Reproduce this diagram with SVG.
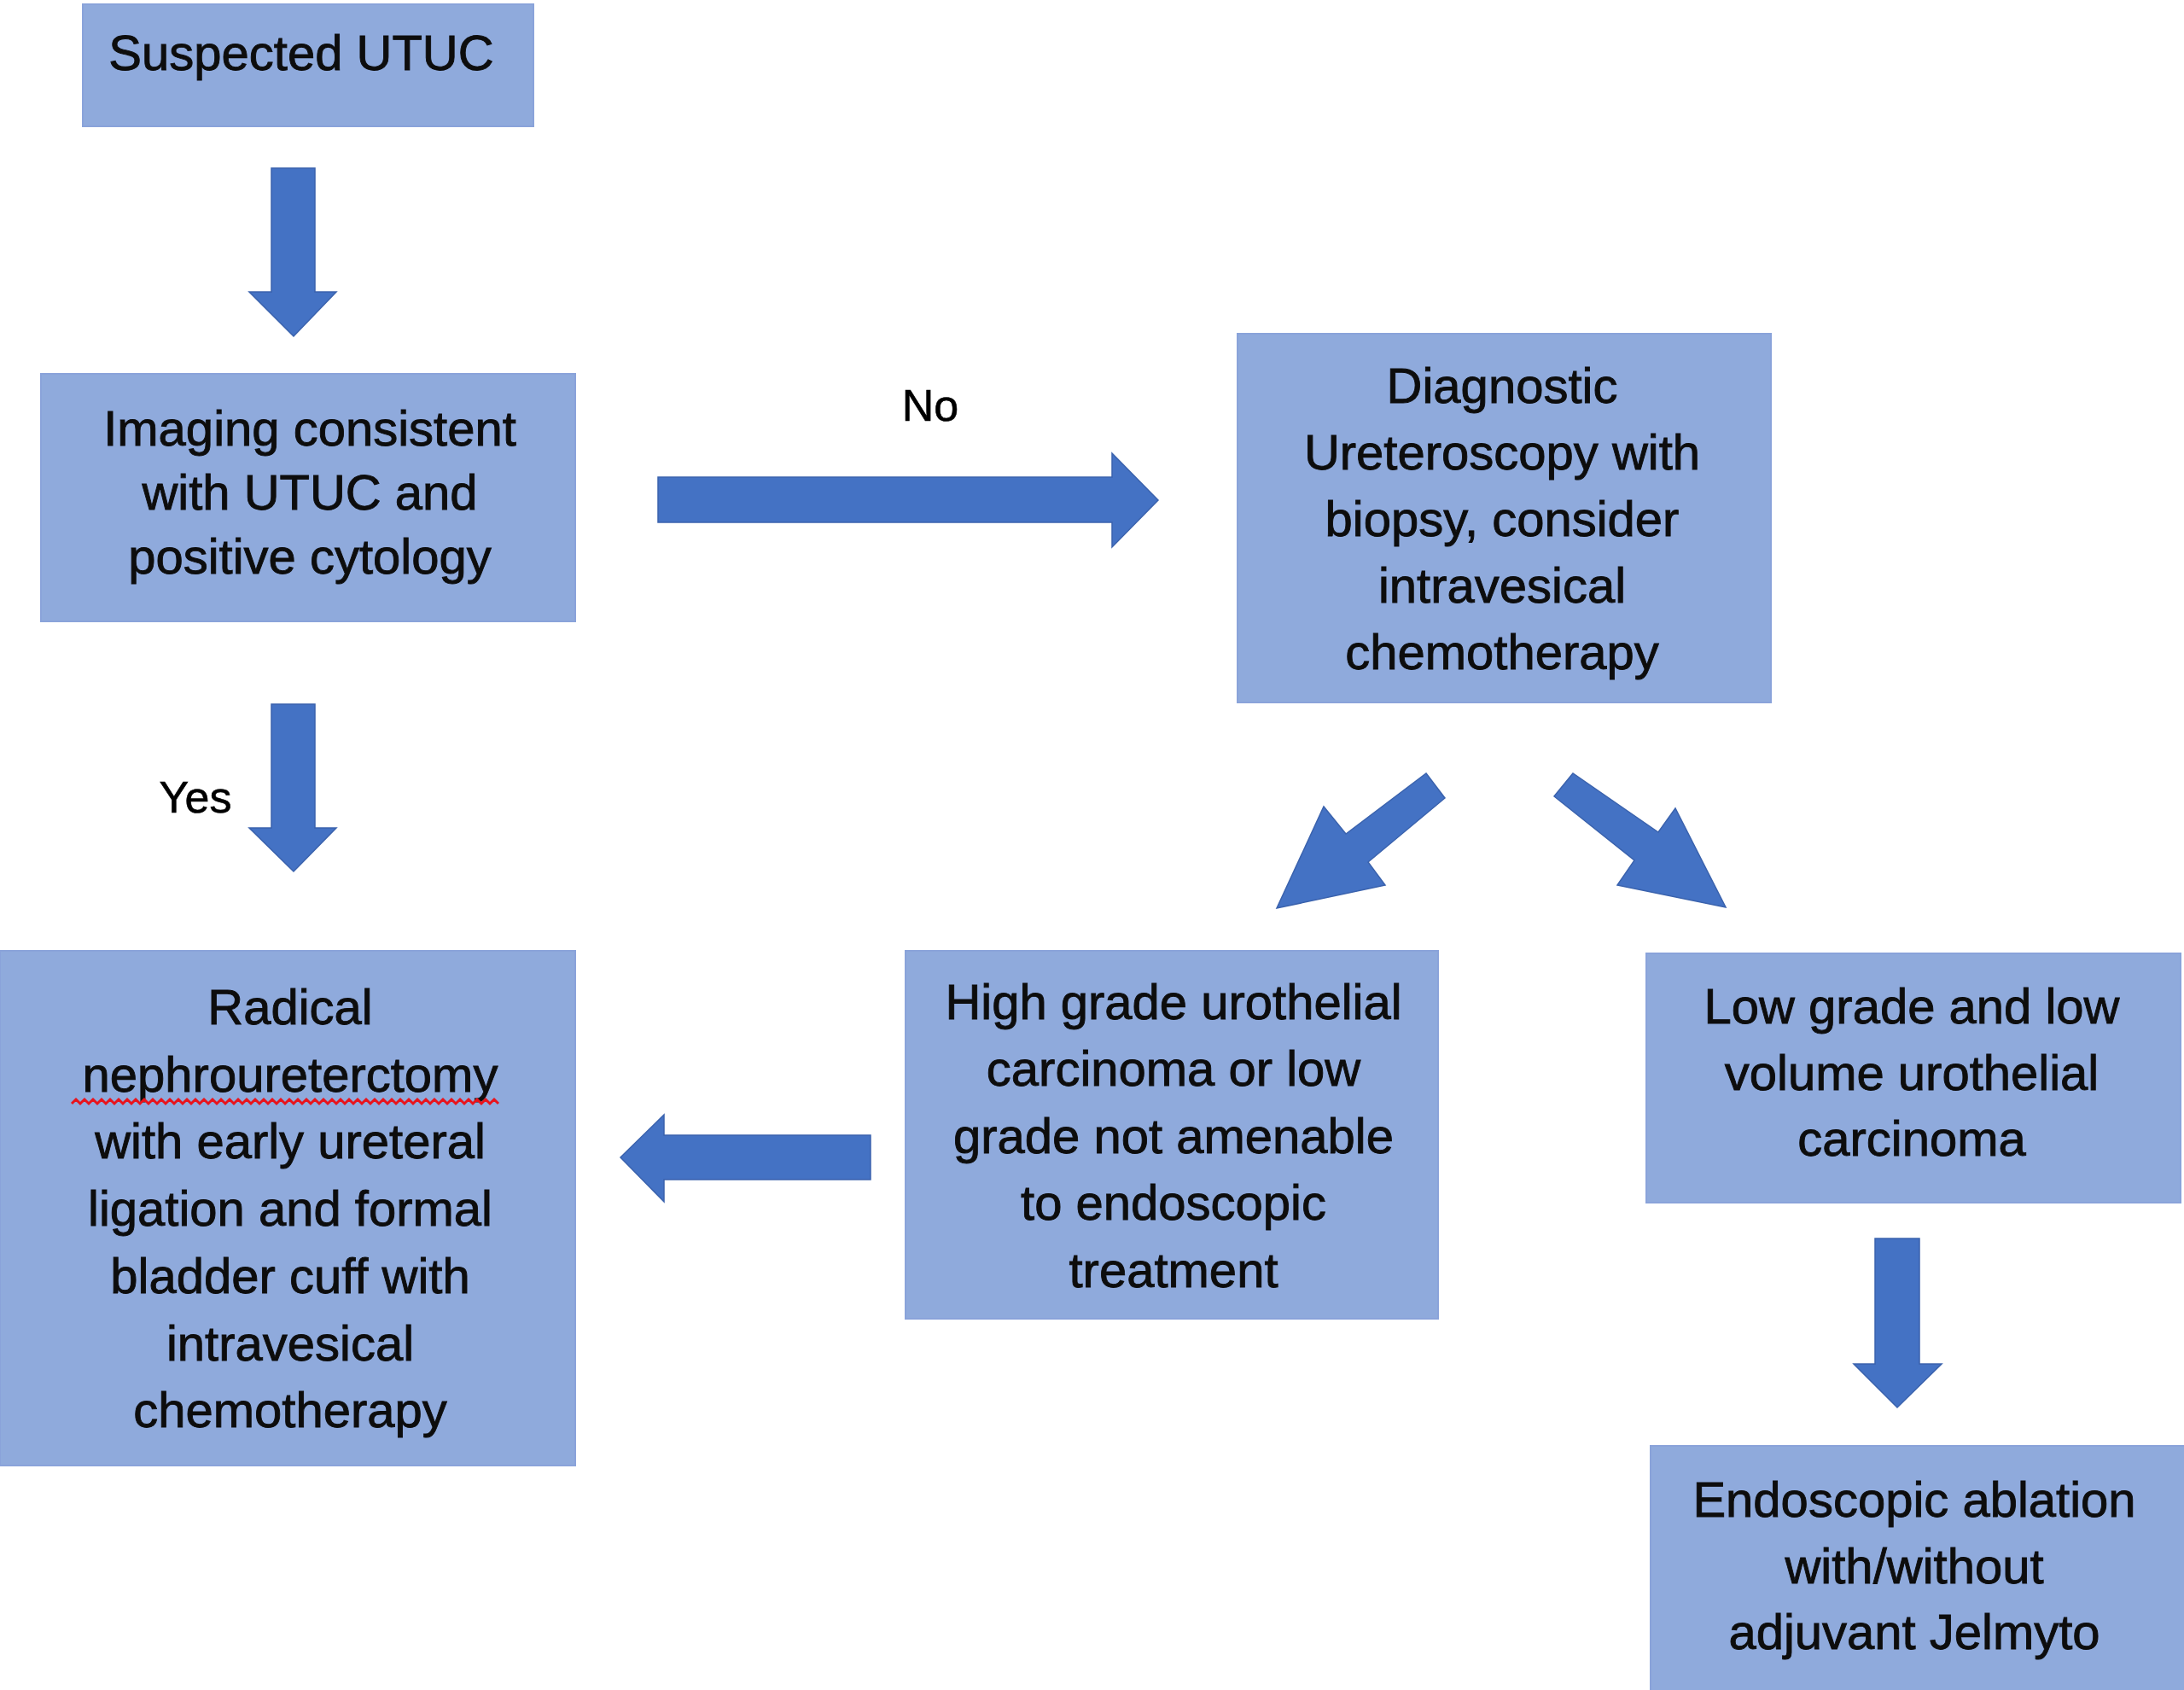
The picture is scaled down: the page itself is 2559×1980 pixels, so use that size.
<svg xmlns="http://www.w3.org/2000/svg" width="2559" height="1980" viewBox="0 0 2559 1980">
<style>
.box{fill:#8FAADC;stroke:#8aa3da;stroke-width:2}
.t{font-family:"Liberation Sans",Arial,sans-serif;font-size:58px;fill:#0d0d0d;stroke:#0d0d0d;stroke-width:0.9;text-anchor:middle}
.lbl{font-family:"Liberation Sans",Arial,sans-serif;font-size:52px;fill:#000;stroke:#000;stroke-width:0.6;text-anchor:middle}
.arr{fill:#4472C4;stroke:#3a62ad;stroke-width:1.5;stroke-linejoin:miter}
</style>
<rect width="2559" height="1980" fill="#ffffff"/>
<g id="connectors">
  <polygon class="arr" points="318,197 369,197 369,342 394,342 344,394 292,342 318,342"/>
  <polygon class="arr" points="771,559 1303,559 1303,531 1357,586 1303,641 1303,612 771,612"/>
  <polygon class="arr" points="318,825 369,825 369,970 394,970 344,1021 292,970 318,970"/>
  <polygon class="arr" points="1671,906 1693,935 1603,1010 1623,1037 1496,1064 1551,945 1577,977"/>
  <polygon class="arr" points="1843,906 1821,933 1915,1008 1895,1037 2022,1063 1963,947 1943,975"/>
  <polygon class="arr" points="1020,1330 1020,1382 778,1382 778,1408 727,1356 778,1306 778,1330"/>
  <polygon class="arr" points="2197,1451 2249,1451 2249,1598 2275,1598 2223,1649 2172,1598 2197,1598"/>
  <text class="lbl" x="1090" y="493">No</text>
  <text class="lbl" x="229" y="952">Yes</text>
</g>
<g id="suspected">
  <rect class="box" x="97" y="5" width="528" height="143"/>
  <text class="t" x="353" y="82">Suspected UTUC</text>
</g>
<g id="imaging">
  <rect class="box" x="48" y="438" width="626" height="290"/>
  <text class="t" x="363" y="522">Imaging consistent</text>
  <text class="t" x="363" y="597">with UTUC and</text>
  <text class="t" x="363" y="672">positive cytology</text>
</g>
<g id="diagnostic">
  <rect class="box" x="1450" y="391" width="625" height="432"/>
  <text class="t" x="1760" y="472">Diagnostic</text>
  <text class="t" x="1760" y="550">Ureteroscopy with</text>
  <text class="t" x="1760" y="628">biopsy, consider</text>
  <text class="t" x="1760" y="706">intravesical</text>
  <text class="t" x="1760" y="784">chemotherapy</text>
</g>
<g id="radical">
  <rect class="box" x="0" y="1114" width="674" height="603"/>
  <text class="t" x="340" y="1200">Radical</text>
  <text class="t" x="340" y="1279">nephroureterctomy</text>
  <path d="M84,1293 l5,-5 l5,5 l5,-5 l5,5 l5,-5 l5,5 l5,-5 l5,5 l5,-5 l5,5 l5,-5 l5,5 l5,-5 l5,5 l5,-5 l5,5 l5,-5 l5,5 l5,-5 l5,5 l5,-5 l5,5 l5,-5 l5,5 l5,-5 l5,5 l5,-5 l5,5 l5,-5 l5,5 l5,-5 l5,5 l5,-5 l5,5 l5,-5 l5,5 l5,-5 l5,5 l5,-5 l5,5 l5,-5 l5,5 l5,-5 l5,5 l5,-5 l5,5 l5,-5 l5,5 l5,-5 l5,5 l5,-5 l5,5 l5,-5 l5,5 l5,-5 l5,5 l5,-5 l5,5 l5,-5 l5,5 l5,-5 l5,5 l5,-5 l5,5 l5,-5 l5,5 l5,-5 l5,5 l5,-5 l5,5 l5,-5 l5,5 l5,-5 l5,5 l5,-5 l5,5 l5,-5 l5,5 l5,-5 l5,5 l5,-5 l5,5 l5,-5 l5,5 l5,-5 l5,5 l5,-5 l5,5 l5,-5 l5,5 l5,-5 l5,5 l5,-5 l5,5 l5,-5 l5,5 l5,-5 l5,5 l5,-5 l5,5" fill="none" stroke="#e8141c" stroke-width="3"/>
  <text class="t" x="340" y="1357">with early ureteral</text>
  <text class="t" x="340" y="1436">ligation and formal</text>
  <text class="t" x="340" y="1515">bladder cuff with</text>
  <text class="t" x="340" y="1594">intravesical</text>
  <text class="t" x="340" y="1672">chemotherapy</text>
</g>
<g id="highgrade">
  <rect class="box" x="1061" y="1114" width="624" height="431"/>
  <text class="t" x="1375" y="1194">High grade urothelial</text>
  <text class="t" x="1375" y="1272">carcinoma or low</text>
  <text class="t" x="1375" y="1351">grade not amenable</text>
  <text class="t" x="1375" y="1429">to endoscopic</text>
  <text class="t" x="1375" y="1508">treatment</text>
</g>
<g id="lowgrade">
  <rect class="box" x="1929" y="1117" width="626" height="292"/>
  <text class="t" x="2240" y="1199">Low grade and low</text>
  <text class="t" x="2240" y="1277">volume urothelial</text>
  <text class="t" x="2240" y="1354">carcinoma</text>
</g>
<g id="endoscopic">
  <rect class="box" x="1934" y="1694" width="630" height="300"/>
  <text class="t" x="2243" y="1777">Endoscopic ablation</text>
  <text class="t" x="2243" y="1855">with/without</text>
  <text class="t" x="2243" y="1932">adjuvant Jelmyto</text>
</g>
</svg>
